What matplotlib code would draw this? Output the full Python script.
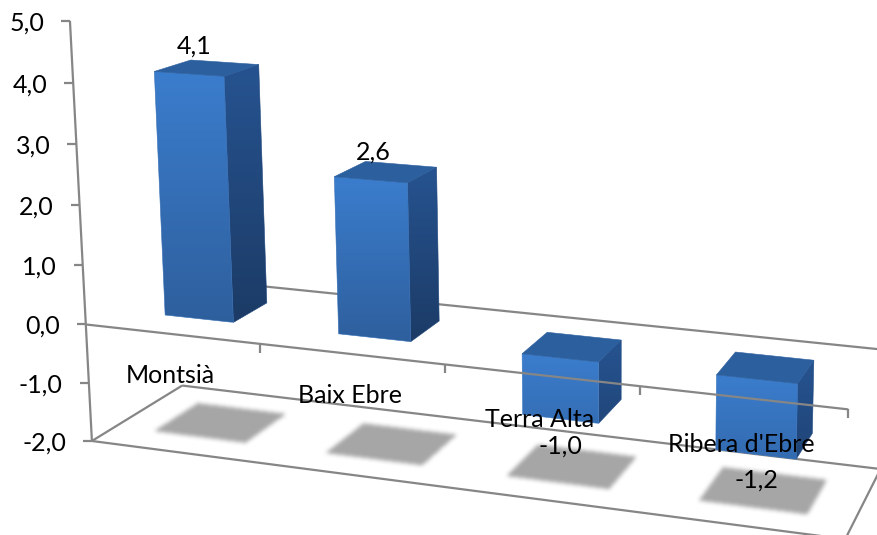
#!/usr/bin/env python3
# -*- coding: utf-8 -*-
"""3D column chart, drawn on a flat axes through a fitted perspective camera"""

import numpy as np
import matplotlib
matplotlib.use('Agg')
import matplotlib.pyplot as plt
from matplotlib.colors import to_rgb
from matplotlib.patches import Polygon
from matplotlib.path import Path

plt.rcParams['font.family'] = ['Lato', 'DejaVu Sans']

categories = ['Montsià', 'Baix Ebre', 'Terra Alta', "Ribera d'Ebre"]
values = [4.1, 2.6, -1.0, -1.2]
value_labels = ['4,1', '2,6', '-1,0', '-1,2']
y_ticks = [5, 4, 3, 2, 1, 0, -1, -2]
y_tick_labels = ['5,0', '4,0', '3,0', '2,0', '1,0', '0,0', '-1,0', '-2,0']

W, H = 877, 535
LINE = '#868686'
FONT = 18
BAR_LO, BAR_HI = 0.3, 0.7   # gap width 150%, in category and in depth
LABEL_SHIFT = [(-13, -22), (-13, -20), (-12, 39), (-8, 39)]   # value label offsets, px

# chart-space corners (category, value, depth) -> where they land on the canvas
frame_3d = [(0, 5, 0), (0, 4, 0), (0, 3, 0), (0, 2, 0), (0, 1, 0), (0, 0, 0), (0, -1, 0), (0, -2, 0),
            (1, 0, 0), (2, 0, 0), (3, 0, 0), (4, 0, 0),
            (0, -2, 1), (0, 0, 1), (4, -2, 0), (4, -2, 1), (4, 0, 1)]
frame_px = [(71, 20), (73, 83), (76, 145), (79, 205), (83, 265), (86, 325), (89, 383), (92, 441),
            (260, 345), (443, 365), (640, 387), (849, 410),
            (182, 386), (178, 276), (846, 536), (881, 470), (883, 350)]


def fit_camera(pts, px):
    """DLT fit of a 3x4 projection matrix"""
    rows = []
    for (a, b, c), (u, v) in zip(pts, px):
        rows.append([a, b, c, 1, 0, 0, 0, 0, -u * a, -u * b, -u * c, -u])
        rows.append([0, 0, 0, 0, a, b, c, 1, -v * a, -v * b, -v * c, -v])
    return np.linalg.svd(np.array(rows, dtype=float))[2][-1].reshape(3, 4)


CAM = fit_camera(frame_3d, frame_px)


def proj(c, v, d):
    x, y, w = CAM @ np.array([c, v, d, 1.0])
    return x / w, y / w


def gradient_face(ax, corners, top, bottom, z):
    corners = np.array(corners)
    x0, y0 = corners.min(axis=0)
    x1, y1 = corners.max(axis=0)
    t = np.linspace(0, 1, 128)[:, None, None]
    grad = (1 - t) * np.array(to_rgb(top)) + t * np.array(to_rgb(bottom))
    im = ax.imshow(grad, extent=(x0, x1, y1, y0), aspect='auto', zorder=z, interpolation='bilinear')
    im.set_clip_path(Polygon(corners, transform=ax.transData))
    mid = (np.array(to_rgb(top)) + np.array(to_rgb(bottom))) / 2
    ax.add_patch(Polygon(corners, closed=True, fill=False, ec=mid, lw=0.4, zorder=z))


def mix(a, b, t):
    return tuple((1 - t) * np.array(to_rgb(a)) + t * np.array(to_rgb(b)))


def draw_bar(ax, i, val, z):
    lo, hi = min(val, 0), max(val, 0)
    a, b = i + BAR_LO, i + BAR_HI
    f, k = BAR_LO, BAR_HI
    fade = min(abs(val) / 2.0, 1.0)
    gradient_face(ax, [proj(b, hi, f), proj(b, hi, k), proj(b, lo, k), proj(b, lo, f)],
                  '#265390', mix('#265390', '#1c3b66', fade), z)
    gradient_face(ax, [proj(a, hi, f), proj(b, hi, f), proj(b, lo, f), proj(a, lo, f)],
                  '#3b7dcd', mix('#3b7dcd', '#2e5f9d', fade), z + 0.1)
    ax.add_patch(Polygon([proj(a, hi, f), proj(b, hi, f), proj(b, hi, k), proj(a, hi, k)],
                         closed=True, fc='#2c5f9e', ec='#2c5f9e', lw=0.4, zorder=z + 0.2))


def blur(mask, radius):
    kernel = np.ones(2 * radius + 1) / (2 * radius + 1)
    for _ in range(2):
        mask = np.apply_along_axis(lambda r: np.convolve(r, kernel, mode='same'), 0, mask)
        mask = np.apply_along_axis(lambda r: np.convolve(r, kernel, mode='same'), 1, mask)
    return mask


def draw_shadows(ax, n):
    # soft shadows on the floor, as one blurred raster
    gx, gy = np.meshgrid(np.arange(W) + 0.5, np.arange(H) + 0.5)
    grid = np.column_stack([gx.ravel(), gy.ravel()])
    mask = np.zeros((H, W))
    for i in range(n):
        a, b = i + 0.23, i + 0.77
        f, k = 0.25, 0.75
        pts = [proj(a, -2, f), proj(b, -2, f), proj(b, -2, k), proj(a, -2, k)]
        mask += Path(pts + pts[:1]).contains_points(grid).reshape(H, W)
    rgba = np.zeros((H, W, 4))
    rgba[..., :3] = to_rgb('#a6a6a6')
    rgba[..., 3] = blur(mask, 2)
    ax.imshow(rgba, extent=(0, W, H, 0), aspect='auto', zorder=2, interpolation='bilinear')


def line(ax, p, q, z):
    ax.plot([p[0], q[0]], [p[1], q[1]], color=LINE, lw=1.6, zorder=z, solid_capstyle='butt')


def main():
    fig = plt.figure(figsize=(W / 100, H / 100), dpi=100)
    ax = fig.add_axes([0, 0, 1, 1])
    n = len(categories)

    # floor outline and the zero line at the back
    floor = [proj(0, -2, 0), proj(n, -2, 0), proj(n, -2, 1), proj(0, -2, 1)]
    for j in range(4):
        line(ax, floor[j], floor[(j + 1) % 4], 1)
    line(ax, proj(0, 0, 1), proj(n, 0, 1), 1)

    draw_shadows(ax, n)
    for i, val in enumerate(values):
        draw_bar(ax, i, val, 3 + i)

    # front zero line with its ticks
    line(ax, proj(0, 0, 0), proj(n, 0, 0), 10)
    for i in range(1, n + 1):
        x, y = proj(i, 0, 0)
        line(ax, (x, y), (x, y + 9), 10)

    # value axis
    line(ax, proj(0, max(y_ticks), 0), proj(0, min(y_ticks), 0), 10)
    for tick, label in zip(y_ticks, y_tick_labels):
        x, y = proj(0, tick, 0)
        line(ax, (x - 9, y), (x, y), 10)
        ax.text(x - 26, y + 2, label, ha='right', va='center', fontsize=FONT, color='black', zorder=12)

    for i, name in enumerate(categories):
        x, y = proj(i + 0.5, 0, 0)
        ax.text(x - 1, y + 41 + max(i - 1, 0) * 3, name, ha='center', va='center',
                fontsize=FONT, color='black', zorder=12)

    for i, (val, label) in enumerate(zip(values, value_labels)):
        x, y = proj(i + 0.5, val, 0.5)
        ax.text(x + LABEL_SHIFT[i][0], y + LABEL_SHIFT[i][1], label, ha='center', va='center',
                fontsize=FONT, color='black', zorder=12)

    ax.set_xlim(0, W)
    ax.set_ylim(H, 0)
    ax.axis('off')
    fig.savefig('out.png', dpi=100)


if __name__ == "__main__":
    main()
